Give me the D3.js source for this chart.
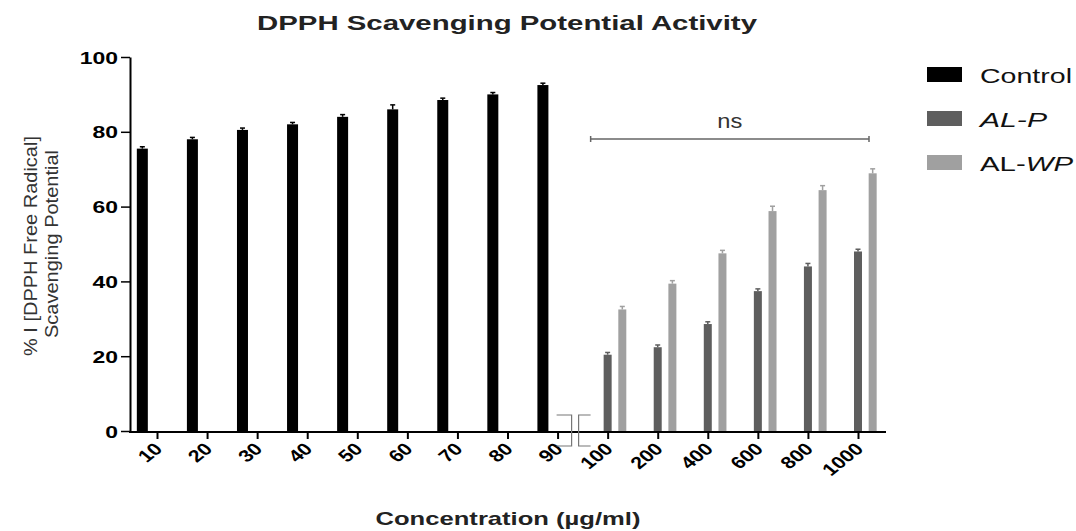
<!DOCTYPE html>
<html>
<head>
<meta charset="utf-8">
<script src="https://cdn.jsdelivr.net/npm/d3@7"></script>
<style>
  body { margin: 0; background: #fff; }
  svg { display: block; font-family: "Liberation Sans", Arial, Helvetica, sans-serif; }
</style>
</head>
<body>
<div id="chart"></div>
<script>
// categories on the x axis (µg/ml)
var categories = ["10", "20", "30", "40", "50", "60", "70", "80", "90", "100", "200", "400", "600", "800", "1000"];
var controlCats = ["10", "20", "30", "40", "50", "60", "70", "80", "90"];
var extractCats = ["100", "200", "400", "600", "800", "1000"];

var controlValues = [75.5, 78, 80.5, 82, 84, 86, 88.5, 90, 92.5];
var controlErr = [0.5, 0.5, 0.5, 0.5, 0.6, 1.2, 0.5, 0.5, 0.5];
var alpValues = [20.4, 22.4, 28.6, 37.4, 44, 48];
var alpErr = [0.6, 0.6, 0.6, 0.6, 0.8, 0.6];
var alwpValues = [32.5, 39.4, 47.5, 58.8, 64.4, 68.9];
var alwpErr = [0.8, 0.8, 0.8, 1.3, 1.2, 1.2];

var series = ["Control", "AL-P", "AL-WP"];
var colors = ["#000000", "#5e5e5e", "#a0a0a0"];
var yTicks = [0, 20, 40, 60, 80, 100];

var width = 1076;
var height = 531;

var svg = d3.select("#chart")
  .append("svg")
  .attr("width", width)
  .attr("height", height);

var x = d3.scalePoint()
  .domain(categories)
  .range([157, 858]);

// position of each series inside a group
var sub = d3.scaleBand()
  .domain(series)
  .range([-22, 22]);

var barWidth = d3.scaleOrdinal().domain(series).range([11, 8, 8]);
var color = d3.scaleOrdinal().domain(series).range(colors);

var y = d3.scaleLinear()
  .domain([0, 100])
  .range([431, 57]);

// flatten to one list of bars
var bars = [];
controlCats.forEach(function (c, i) {
  bars.push({ cat: c, s: "Control", v: controlValues[i], e: controlErr[i] });
});
extractCats.forEach(function (c, i) {
  bars.push({ cat: c, s: "AL-P", v: alpValues[i], e: alpErr[i] });
  bars.push({ cat: c, s: "AL-WP", v: alwpValues[i], e: alwpErr[i] });
});

function cx(d) {
  return x(d.cat) + sub(d.s) + sub.bandwidth() / 2;
}

// title
svg.append("text")
  .attr("x", 507)
  .attr("y", 30)
  .attr("text-anchor", "middle")
  .attr("font-size", 21)
  .attr("font-weight", "bold")
  .attr("fill", "#222")
  .attr("textLength", 500)
  .attr("lengthAdjust", "spacingAndGlyphs")
  .text("DPPH Scavenging Potential Activity");

// bars
svg.append("g")
  .selectAll("rect")
  .data(bars)
  .enter().append("rect")
  .attr("x", function (d) { return cx(d) - barWidth(d.s) / 2; })
  .attr("y", function (d) { return y(d.v); })
  .attr("width", function (d) { return barWidth(d.s); })
  .attr("height", function (d) { return y(0) - y(d.v); })
  .attr("fill", function (d) { return color(d.s); });

// error bars (upper only)
var err = svg.append("g")
  .selectAll("g")
  .data(bars)
  .enter().append("g")
  .attr("stroke", function (d) { return color(d.s); })
  .attr("stroke-width", 1.5);

err.append("line")
  .attr("x1", cx).attr("x2", cx)
  .attr("y1", function (d) { return y(d.v); })
  .attr("y2", function (d) { return y(d.v + d.e); });

err.append("line")
  .attr("x1", function (d) { return cx(d) - 2.5; })
  .attr("x2", function (d) { return cx(d) + 2.5; })
  .attr("y1", function (d) { return y(d.v + d.e); })
  .attr("y2", function (d) { return y(d.v + d.e); });

// y axis
var yAxis = svg.append("g")
  .attr("transform", "translate(130,0)")
  .call(d3.axisLeft(y).tickValues(yTicks).tickSize(9).tickSizeOuter(0));

yAxis.select(".domain").attr("stroke", "#000").attr("stroke-width", 2);
yAxis.selectAll(".tick line").attr("stroke", "#000").attr("stroke-width", 1.5);
yAxis.selectAll(".tick text")
  .attr("x", null)
  .attr("dy", "0.36em")
  .attr("transform", "translate(-12,0) scale(1.35,1)")
  .attr("font-size", 17)
  .attr("font-weight", "bold")
  .attr("fill", "#000");

// x axis
var xAxis = svg.append("g")
  .attr("transform", "translate(0,432)")
  .call(d3.axisBottom(x).tickSize(7).tickSizeOuter(0));

xAxis.select(".domain")
  .attr("d", "M129,0H886")
  .attr("stroke", "#000")
  .attr("stroke-width", 2);
xAxis.selectAll(".tick line").attr("stroke", "#000").attr("stroke-width", 2);
xAxis.selectAll(".tick text")
  .attr("y", null)
  .attr("dy", null)
  .attr("text-anchor", "end")
  .attr("transform", "translate(6,18) scale(1.25,1) rotate(-45)")
  .attr("font-size", 17)
  .attr("font-weight", "bold")
  .attr("fill", "#000");

// axis break marks between 90 and 100
var mid = (x("90") + x("100")) / 2;
svg.append("path")
  .attr("d", "M" + (mid - 26) + ",415H" + (mid - 11) + "V446H" + (mid - 26) +
    "M" + (mid + 8) + ",415H" + (mid - 4) + "V446H" + (mid + 8))
  .attr("fill", "none")
  .attr("stroke", "#777")
  .attr("stroke-width", 1.2);

// ns bracket over the extract groups
var nsLeft = x("100") - 17;
var nsRight = x("1000") + 11;
svg.append("path")
  .attr("d", "M" + nsLeft + ",136V142M" + nsLeft + ",139H" + nsRight + "M" + nsRight + ",136V142")
  .attr("stroke", "#666")
  .attr("stroke-width", 1.5)
  .attr("fill", "none");

svg.append("text")
  .attr("x", (nsLeft + nsRight) / 2)
  .attr("y", 128)
  .attr("text-anchor", "middle")
  .attr("font-size", 20)
  .attr("fill", "#333")
  .attr("textLength", 25)
  .attr("lengthAdjust", "spacingAndGlyphs")
  .text("ns");

// axis titles
var yLab = svg.append("g")
  .attr("fill", "#333")
  .attr("font-size", 19)
  .attr("text-anchor", "middle");

yLab.append("text")
  .attr("transform", "translate(37,246) rotate(-90)")
  .attr("textLength", 220)
  .attr("lengthAdjust", "spacingAndGlyphs")
  .text("% I [DPPH Free Radical]");

yLab.append("text")
  .attr("transform", "translate(58,244) rotate(-90)")
  .attr("textLength", 188)
  .attr("lengthAdjust", "spacingAndGlyphs")
  .text("Scavenging Potential");

svg.append("text")
  .attr("x", 508)
  .attr("y", 525)
  .attr("text-anchor", "middle")
  .attr("font-size", 19)
  .attr("font-weight", "bold")
  .attr("fill", "#222")
  .attr("textLength", 265)
  .attr("lengthAdjust", "spacingAndGlyphs")
  .text("Concentration (\u00b5g/ml)");

// legend
var legendLen = [92, 67, 93];
var legend = svg.append("g")
  .selectAll("g")
  .data(series)
  .enter().append("g")
  .attr("transform", function (d, i) { return "translate(927," + (75 + i * 44) + ")"; });

legend.append("rect")
  .attr("x", 0)
  .attr("y", -8)
  .attr("width", 35)
  .attr("height", 15)
  .attr("fill", function (d) { return color(d); });

var legendText = legend.append("text")
  .attr("x", 53)
  .attr("y", 8)
  .attr("font-size", 21)
  .attr("fill", "#111")
  .attr("textLength", function (d, i) { return legendLen[i]; })
  .attr("lengthAdjust", "spacingAndGlyphs");

legendText.each(function (d) {
  var t = d3.select(this);
  if (d == "Control") {
    t.text("Control");
  } else if (d == "AL-P") {
    t.append("tspan").attr("font-style", "italic").text("AL-P");
  } else {
    t.append("tspan").text("AL-");
    t.append("tspan").attr("font-style", "italic").text("WP");
  }
});
</script>
</body>
</html>
